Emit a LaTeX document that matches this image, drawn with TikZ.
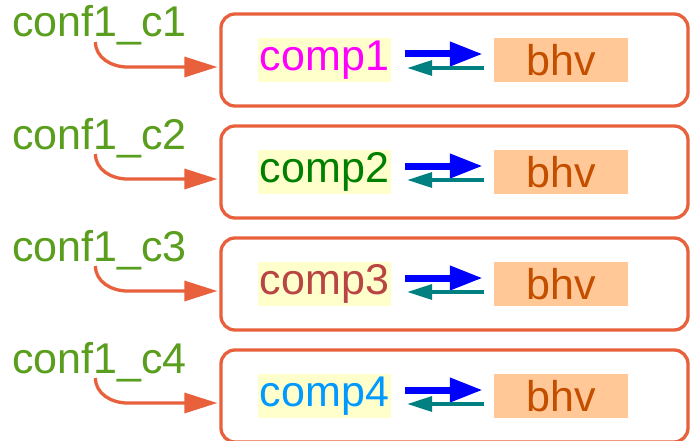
\documentclass[tikz,border=0pt]{standalone}
\usepackage{fontspec}
\setmainfont{Liberation Sans}
\usetikzlibrary{arrows.meta}
\definecolor{orangered}{HTML}{E9603C}
\definecolor{lblgreen}{HTML}{5A9E1E}
\definecolor{compbg}{HTML}{FFFFCC}
\definecolor{bhvbg}{HTML}{FFC896}
\definecolor{bhvtext}{HTML}{C44E00}
\definecolor{cone}{HTML}{FF00FF}
\definecolor{ctwo}{HTML}{008000}
\definecolor{cthree}{HTML}{B94444}
\definecolor{cfour}{HTML}{0099FF}
\definecolor{tealc}{HTML}{008080}
\tikzset{
  bigfont/.style={font=\fontsize{43}{47}\selectfont},
  outerbox/.style={draw=orangered, line width=3.3pt, rounded corners=14pt,
    minimum width=467pt, minimum height=92pt, inner sep=0pt},
  confl/.style={bigfont, text=lblgreen, inner sep=0pt, anchor=base west},
  compbox/.style={bigfont, fill=compbg, minimum width=133pt, minimum height=44pt, inner sep=0pt},
  bhvbox/.style={bigfont, fill=bhvbg, text=bhvtext, minimum width=134pt, minimum height=44pt, inner sep=0pt},
  conn/.style={draw=orangered, line width=3.3pt, -{Triangle[length=33pt,width=20pt]}},
  fwd/.style={draw=blue, line width=7pt, -{Triangle[length=33pt,width=23pt]}},
  bwd/.style={draw=tealc, line width=3.5pt, -{Triangle[length=25pt,width=15pt]}}
}
\begin{document}
\begin{tikzpicture}[x=1pt,y=-1pt]
\useasboundingbox (0,0) rectangle (690,441);
\fill[white] (0,0) rectangle (690,441);
\foreach \i/\c in {1/cone,2/ctwo,3/cthree,4/cfour}{
  \pgfmathsetmacro{\d}{112*(\i-1)}
  \node[outerbox] (box\i) at (454.5,60+\d) {};
  \node[compbox, text=\c] (comp\i) at (324.5,60+\d) {comp\i};
  \node[bhvbox] (bhv\i) at (561,60+\d) {bhv};
  \node[confl] (lbl\i) at (12,37+\d) {conf1\_c\i};
  \draw[fwd, shorten <=14pt, shorten >=11pt] ([yshift=6pt]comp\i.east) -- ([yshift=6pt]bhv\i.west);
  \draw[bwd, shorten <=10pt, shorten >=16pt] ([yshift=-8pt]bhv\i.west) -- ([yshift=-8pt]comp\i.east);
  \draw[conn] ([xshift=-4pt,yshift=-5pt]lbl\i.base) to[out=-90,in=180] ++(32,25) -- ([yshift=-7pt,xshift=-2pt]box\i.west);
}
\end{tikzpicture}
\end{document}
